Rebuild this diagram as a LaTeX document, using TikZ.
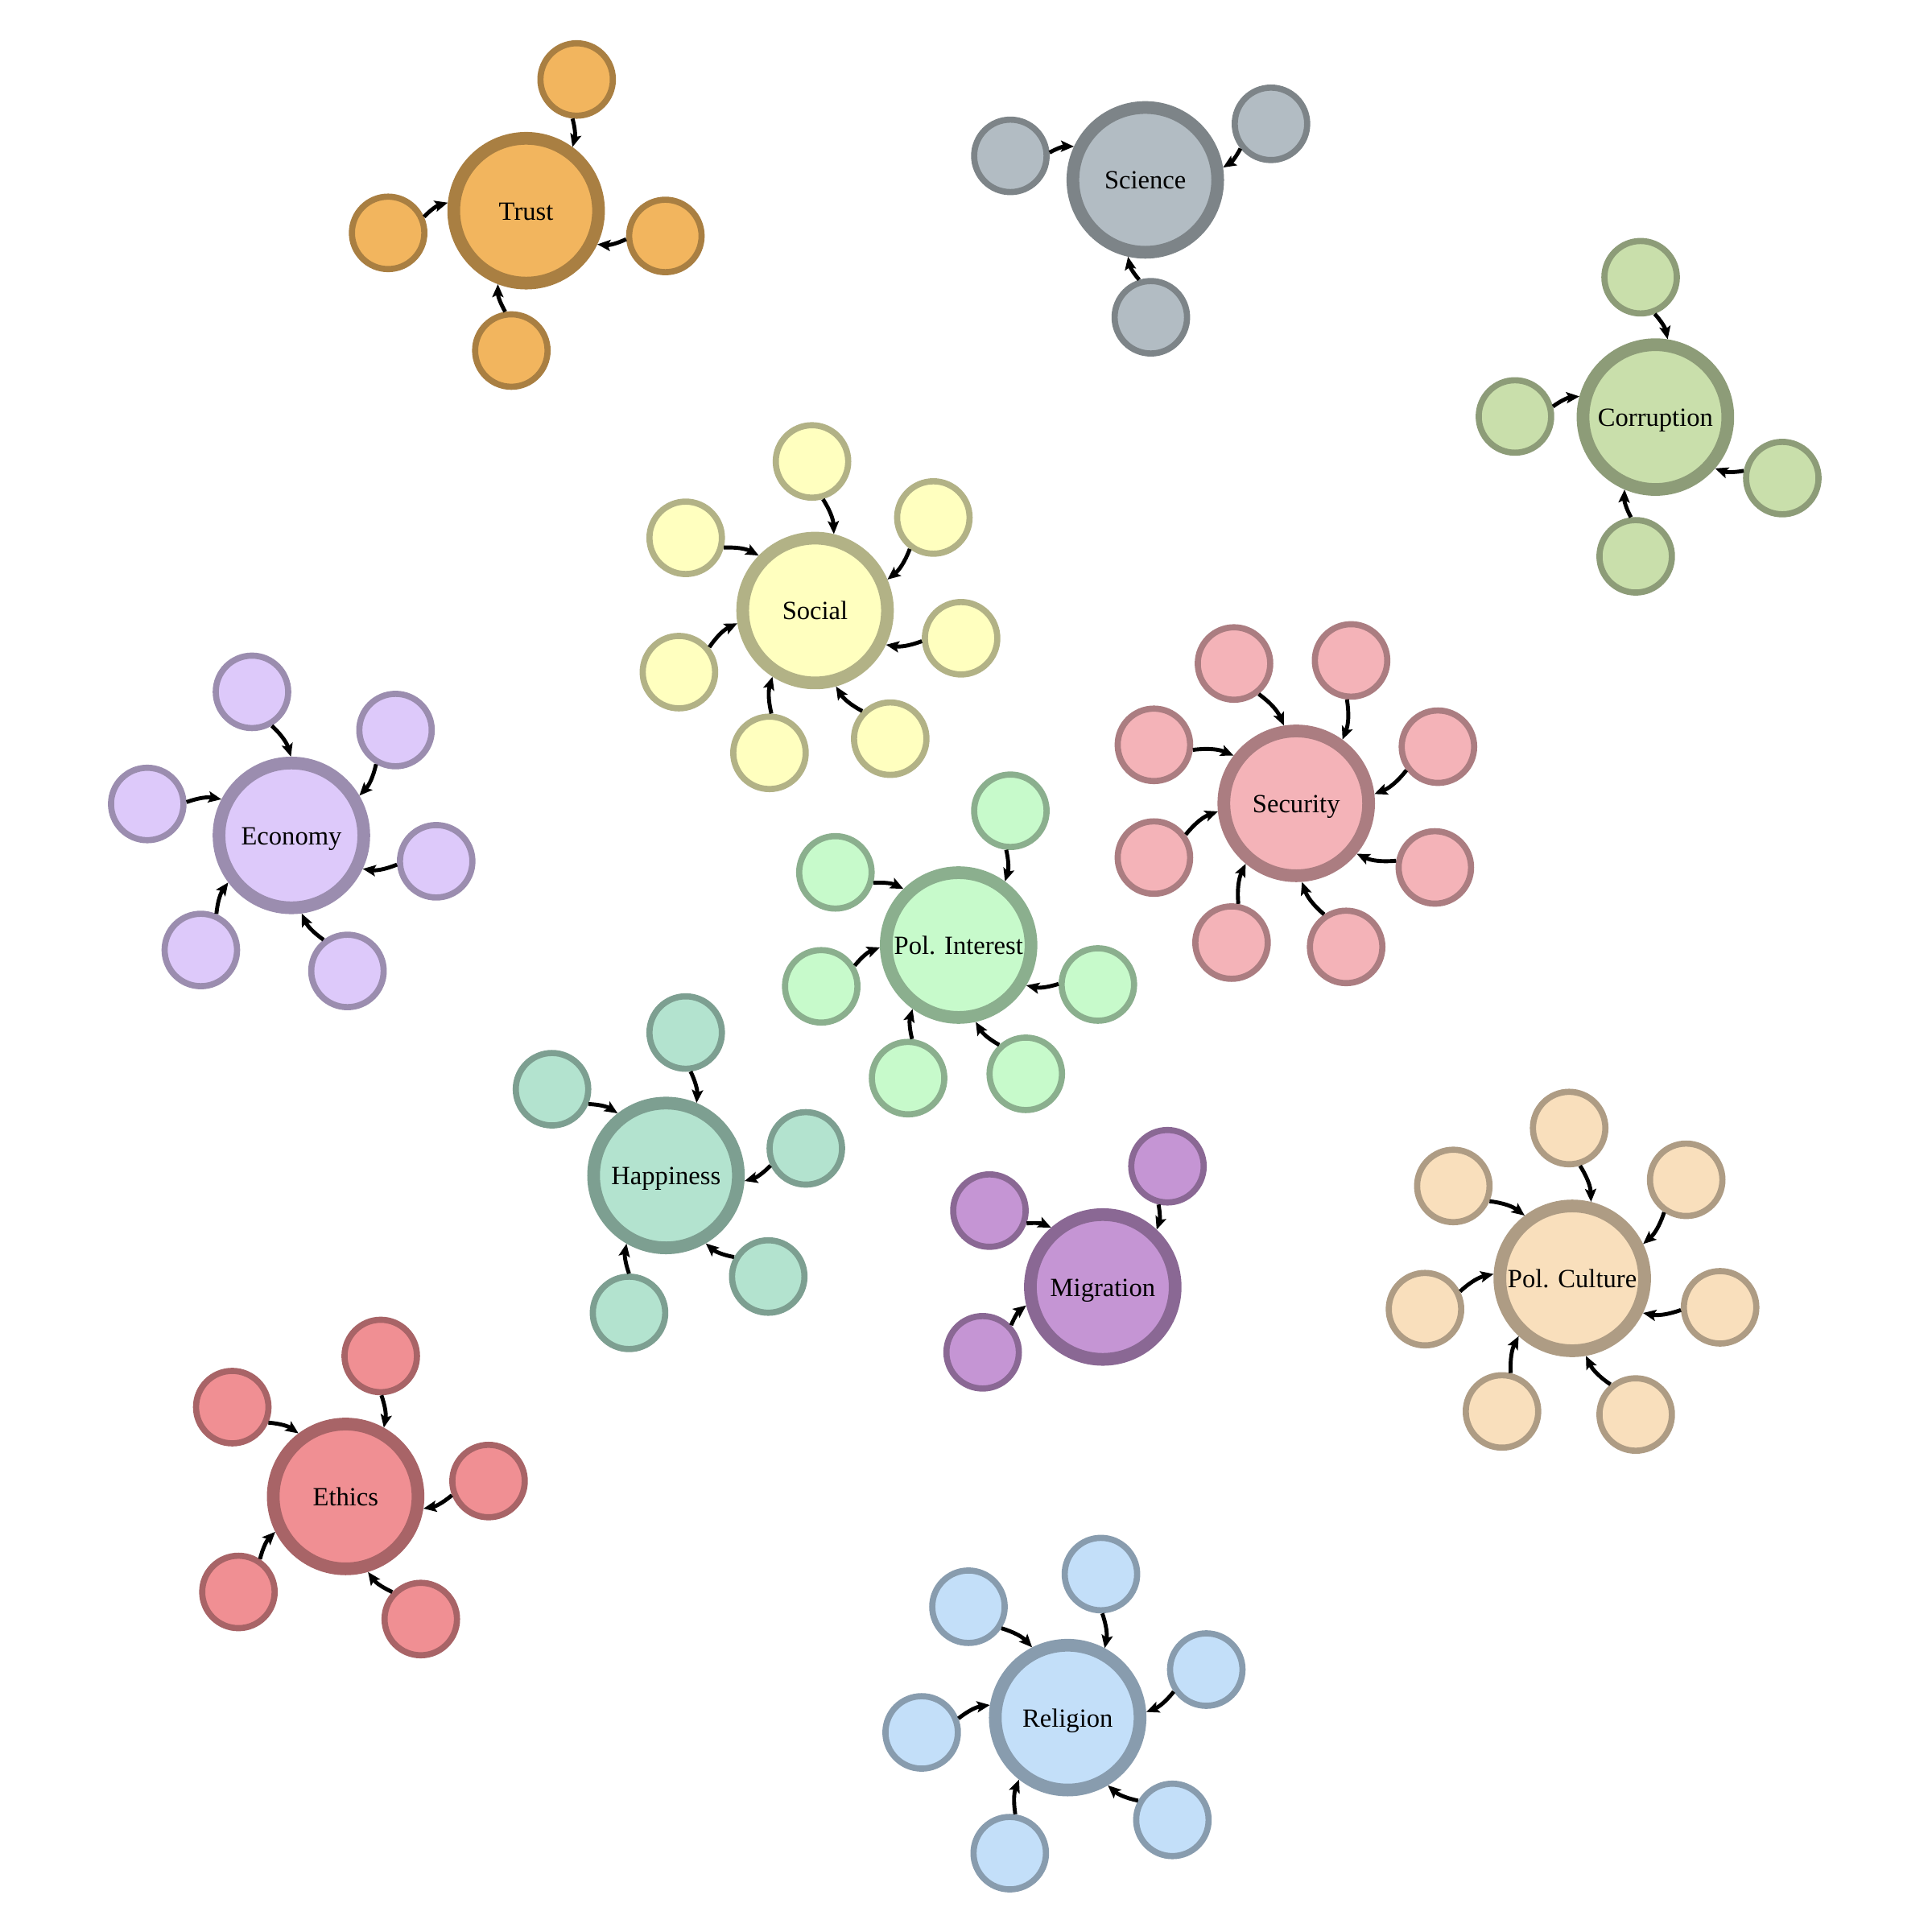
\documentclass[tikz,border=0pt]{standalone}
\usepackage{fontspec}
\setmainfont{Liberation Serif}
\usetikzlibrary{arrows.meta}
\definecolor{trustC}{HTML}{F2B55E}
\definecolor{sciC}{HTML}{B2BCC3}
\definecolor{corrC}{HTML}{C9DFAB}
\definecolor{socC}{HTML}{FFFFBF}
\definecolor{econC}{HTML}{DDC9FA}
\definecolor{secC}{HTML}{F4B3B8}
\definecolor{piC}{HTML}{C7FACB}
\definecolor{hapC}{HTML}{B3E3CF}
\definecolor{migC}{HTML}{C595D4}
\definecolor{pcC}{HTML}{F9DFBC}
\definecolor{ethC}{HTML}{F08F93}
\definecolor{relC}{HTML}{C3DFF9}
\tikzset{
 hub/.style={circle, inner sep=0pt, minimum size=117.5pt, line width=10.3pt, draw=#1!70!black, fill=#1, font=\fontsize{21.3}{24}\selectfont, text height=15pt, text depth=0pt},
 sat/.style={circle, inner sep=0pt, minimum size=58.8pt, line width=5pt, draw=#1!70!black, fill=#1},
 lnk/.style={-{Stealth[length=10.5pt,width=9pt,inset=2pt]}, line width=3.2pt, bend left=15}
}
\begin{document}
\begin{tikzpicture}[x=1pt,y=1pt]
\useasboundingbox (0,0) rectangle (1568,-1568);
% Trust
\node[hub=trustC] (tr) at (427,-171) {Trust};
\node[sat=trustC] (tr1) at (468,-64.5) {};
\node[sat=trustC] (tr2) at (315,-189) {};
\node[sat=trustC] (tr3) at (540,-191.5) {};
\node[sat=trustC] (tr4) at (415,-284.5) {};
\foreach \i in {1,...,4} \draw[lnk] (tr\i) to (tr);
% Science
\node[hub=sciC] (sc) at (929.5,-146) {Science};
\node[sat=sciC] (sc1) at (820,-126.5) {};
\node[sat=sciC] (sc2) at (1031.5,-100.5) {};
\node[sat=sciC] (sc3) at (934,-257.5) {};
\foreach \i in {1,...,3} \draw[lnk] (sc\i) to (sc);
% Corruption
\node[hub=corrC] (co) at (1343.5,-338.5) {Corruption};
\node[sat=corrC] (co1) at (1331.5,-225) {};
\node[sat=corrC] (co2) at (1229.5,-338) {};
\node[sat=corrC] (co3) at (1446.5,-388) {};
\node[sat=corrC] (co4) at (1327.5,-451.5) {};
\foreach \i in {1,...,4} \draw[lnk] (co\i) to (co);
% Social
\node[hub=socC] (so) at (661.5,-495.5) {Social};
\node[sat=socC] (so1) at (659,-374.5) {};
\node[sat=socC] (so2) at (556.5,-436.5) {};
\node[sat=socC] (so3) at (757.5,-420) {};
\node[sat=socC] (so4) at (780,-518) {};
\node[sat=socC] (so5) at (551,-545.5) {};
\node[sat=socC] (so6) at (624.5,-611) {};
\node[sat=socC] (so7) at (722.5,-599.5) {};
\foreach \i in {1,...,7} \draw[lnk] (so\i) to (so);
% Economy
\node[hub=econC] (ec) at (236.5,-678) {Economy};
\node[sat=econC] (ec1) at (204.5,-561.5) {};
\node[sat=econC] (ec2) at (321,-592.5) {};
\node[sat=econC] (ec3) at (119.5,-652.5) {};
\node[sat=econC] (ec4) at (354,-699) {};
\node[sat=econC] (ec5) at (163,-771) {};
\node[sat=econC] (ec6) at (282,-788) {};
\foreach \i in {1,...,6} \draw[lnk] (ec\i) to (ec);
% Security
\node[hub=secC] (se) at (1052,-652) {Security};
\node[sat=secC] (se1) at (1001.5,-538.5) {};
\node[sat=secC] (se2) at (1096.5,-536) {};
\node[sat=secC] (se3) at (936.5,-604.5) {};
\node[sat=secC] (se4) at (1167,-606) {};
\node[sat=secC] (se5) at (936.5,-696) {};
\node[sat=secC] (se6) at (1164.5,-704) {};
\node[sat=secC] (se7) at (999.5,-765) {};
\node[sat=secC] (se8) at (1092.5,-768.5) {};
\foreach \i in {1,...,8} \draw[lnk] (se\i) to (se);
% Pol. Interest
\node[hub=piC] (pi) at (778,-767) {Pol. Interest};
\node[sat=piC] (pi1) at (820,-658) {};
\node[sat=piC] (pi2) at (678,-708) {};
\node[sat=piC] (pi3) at (666.5,-800.5) {};
\node[sat=piC] (pi4) at (891,-799) {};
\node[sat=piC] (pi5) at (737,-875) {};
\node[sat=piC] (pi6) at (832.5,-871.5) {};
\foreach \i in {1,...,6} \draw[lnk] (pi\i) to (pi);
% Happiness
\node[hub=hapC] (ha) at (540.5,-954) {Happiness};
\node[sat=hapC] (ha1) at (556.5,-838) {};
\node[sat=hapC] (ha2) at (448,-884) {};
\node[sat=hapC] (ha3) at (654,-932) {};
\node[sat=hapC] (ha4) at (623.5,-1036) {};
\node[sat=hapC] (ha5) at (510.5,-1065.5) {};
\foreach \i in {1,...,5} \draw[lnk] (ha\i) to (ha);
% Migration
\node[hub=migC] (mi) at (895,-1044.5) {Migration};
\node[sat=migC] (mi1) at (947.5,-946.5) {};
\node[sat=migC] (mi2) at (803,-982.5) {};
\node[sat=migC] (mi3) at (797.5,-1097.5) {};
\foreach \i in {1,...,3} \draw[lnk] (mi\i) to (mi);
% Pol. Culture
\node[hub=pcC] (pc) at (1276,-1037.5) {Pol. Culture};
\node[sat=pcC] (pc1) at (1273.5,-915.5) {};
\node[sat=pcC] (pc2) at (1179.5,-962.5) {};
\node[sat=pcC] (pc3) at (1368.5,-957.5) {};
\node[sat=pcC] (pc4) at (1156.5,-1062.5) {};
\node[sat=pcC] (pc5) at (1396,-1061) {};
\node[sat=pcC] (pc6) at (1219,-1145.5) {};
\node[sat=pcC] (pc7) at (1327.5,-1148) {};
\foreach \i in {1,...,7} \draw[lnk] (pc\i) to (pc);
% Ethics
\node[hub=ethC] (et) at (280.5,-1214.5) {Ethics};
\node[sat=ethC] (et1) at (309,-1100.5) {};
\node[sat=ethC] (et2) at (188.5,-1142) {};
\node[sat=ethC] (et3) at (396.5,-1202) {};
\node[sat=ethC] (et4) at (193.5,-1292) {};
\node[sat=ethC] (et5) at (341.5,-1314) {};
\foreach \i in {1,...,5} \draw[lnk] (et\i) to (et);
% Religion
\node[hub=relC] (re) at (866.5,-1394) {Religion};
\node[sat=relC] (re1) at (893.5,-1277.5) {};
\node[sat=relC] (re2) at (786,-1304) {};
\node[sat=relC] (re3) at (979,-1355) {};
\node[sat=relC] (re4) at (748,-1406) {};
\node[sat=relC] (re5) at (951.5,-1477) {};
\node[sat=relC] (re6) at (819.5,-1504) {};
\foreach \i in {1,...,6} \draw[lnk] (re\i) to (re);
\end{tikzpicture}
\end{document}
